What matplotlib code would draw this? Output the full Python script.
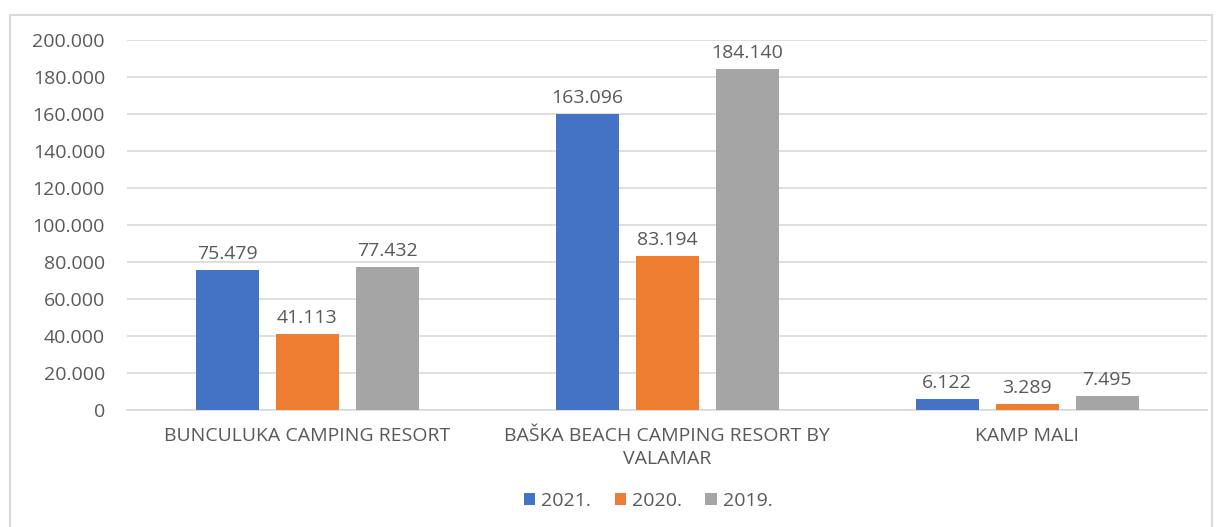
import matplotlib.pyplot as plt
import numpy as np
from matplotlib.patches import Rectangle

plt.rcParams['font.family'] = ['Open Sans', 'DejaVu Sans']

# Data
camps = ['BUNCULUKA CAMPING RESORT', 'BAŠKA BEACH CAMPING RESORT BY\nVALAMAR', 'KAMP MALI']
years = ['2021.', '2020.', '2019.']
vals_2021 = [75479, 160000, 6122]
vals_2020 = [41113, 83194, 3289]
vals_2019 = [77432, 184140, 7495]
labels_2021 = ['75.479', '163.096', '6.122']
labels_2020 = ['41.113', '83.194', '3.289']
labels_2019 = ['77.432', '184.140', '7.495']

colors = ['#4472C4', '#ED7D31', '#A5A5A5']
text_col = '#595959'
fs = 14

fig = plt.figure(figsize=(12.23, 5.27), dpi=100)
ax = fig.add_axes([0.104, 0.222, 0.883, 0.702])

# Light gray frame like the Excel chart area
fig.patches.append(Rectangle((0.008, -0.05), 0.983, 1.022, transform=fig.transFigure,
                             fill=False, edgecolor='#D9D9D9', linewidth=1.5))

x = np.arange(len(camps))
width = 0.175
step = 0.222
series = [vals_2021, vals_2020, vals_2019]
lbls = [labels_2021, labels_2020, labels_2019]

for i, (vals, lab) in enumerate(zip(series, lbls)):
    bars = ax.bar(x + (i - 1) * step, vals, width, color=colors[i], label=years[i], zorder=3)
    for b, t in zip(bars, lab):
        ax.annotate(t, (b.get_x() + b.get_width() / 2, b.get_height()),
                    xytext=(0, 5), textcoords='offset points', ha='center', va='bottom',
                    fontsize=fs, color=text_col)

ax.set_xlim(-0.5, 2.5)
ax.set_ylim(0, 200000)
ax.set_yticks(range(0, 200001, 20000))
ax.set_yticklabels(['0' if v == 0 else f'{v // 1000}.000' for v in range(0, 200001, 20000)])
ax.set_xticks(x)
ax.set_xticklabels(camps, linespacing=1.35)
ax.tick_params(axis='both', length=0, labelsize=fs, labelcolor=text_col)
ax.tick_params(axis='x', pad=12)
ax.tick_params(axis='y', pad=16)

ax.grid(axis='y', color='#D9D9D9', linewidth=1.2, zorder=0)
for s in ['top', 'right', 'left']:
    ax.spines[s].set_visible(False)
ax.spines['bottom'].set_color('#D9D9D9')
ax.spines['bottom'].set_linewidth(1.2)

leg = fig.legend(loc='center', bbox_to_anchor=(0.53, 0.05), ncol=3, frameon=False,
                 fontsize=fs, handlelength=0.6, handleheight=0.6, handletextpad=0.3,
                 columnspacing=1.2)
for t in leg.get_texts():
    t.set_color(text_col)

fig.savefig('out.png', dpi=100, facecolor='white')
